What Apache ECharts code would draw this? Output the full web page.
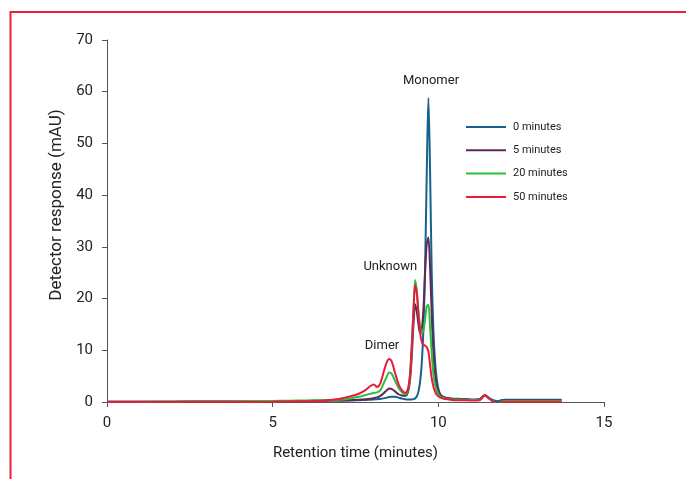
<!DOCTYPE html>
<html>
<head>
<meta charset="utf-8">
<script src="https://cdn.jsdelivr.net/npm/echarts@6/dist/echarts.min.js"></script>
<style>
html,body{margin:0;padding:0;background:#fff;}
#chart{width:686px;height:479px;}
</style>
</head>
<body>
<div id="chart"></div>
<script>
var times = [0, 1, 2, 3, 4, 5, 5.5, 6, 6.5, 7, 7.3, 7.6, 7.8, 7.95, 8.05, 8.15, 8.25, 8.35, 8.45, 8.52, 8.6, 8.7, 8.8, 8.9, 9.0, 9.05, 9.1, 9.15, 9.2, 9.25, 9.3, 9.35, 9.4, 9.45, 9.5, 9.55, 9.6, 9.65, 9.7, 9.75, 9.8, 9.85, 9.9, 9.95, 10.0, 10.05, 10.1, 10.2, 10.4, 10.7, 11.0, 11.25, 11.4, 11.55, 11.68, 11.8, 11.92, 12.05, 12.5, 13.0, 13.72];

var min0 = [0.05, 0.05, 0.05, 0.1, 0.1, 0.15, 0.2, 0.2, 0.25, 0.3, 0.3, 0.35, 0.4, 0.45, 0.5, 0.55, 0.6, 0.7, 0.85, 0.95, 1.0, 1.0, 0.85, 0.65, 0.55, 0.5, 0.5, 0.5, 0.5, 0.55, 0.7, 1.1, 2.0, 4.0, 7.5, 14, 26, 44, 58.8, 45, 25, 14, 8, 4.5, 2.6, 1.6, 1.2, 0.9, 0.7, 0.6, 0.5, 0.6, 1.3, 0.7, 0.3, 0.15, 0.4, 0.45, 0.45, 0.45, 0.45];

var min5 = [0.05, 0.05, 0.05, 0.1, 0.1, 0.15, 0.2, 0.2, 0.25, 0.3, 0.35, 0.45, 0.55, 0.65, 0.75, 0.9, 1.2, 1.7, 2.3, 2.6, 2.5, 2.0, 1.5, 1.25, 1.2, 1.4, 2.3, 4.5, 9, 15, 18.9, 17.5, 15, 13.3, 14, 18, 25, 30.5, 31.8, 26, 17, 9.5, 5.5, 3.2, 2.1, 1.5, 1.1, 0.8, 0.6, 0.5, 0.4, 0.5, 1.3, 0.6, 0.1, -0.2, 0.2, 0.3, 0.3, 0.3, 0.3];

var min20 = [0.05, 0.05, 0.1, 0.1, 0.15, 0.2, 0.25, 0.3, 0.35, 0.45, 0.65, 1.0, 1.35, 1.6, 1.75, 1.85, 2.3, 3.6, 5.0, 5.7, 5.4, 4.0, 2.7, 1.9, 1.5, 1.7, 2.8, 5.5, 11, 18, 23.6, 21.5, 17.5, 14.5, 13.3, 13.8, 16, 18.5, 18.8, 14.5, 9.5, 5.5, 3.4, 2.2, 1.5, 1.1, 0.9, 0.7, 0.5, 0.45, 0.4, 0.45, 1.3, 0.6, 0.0, -0.4, 0.1, 0.2, 0.2, 0.2, 0.2];

var min50 = [0, 0, 0, 0, 0, 0.05, 0.1, 0.15, 0.25, 0.6, 1.0, 1.6, 2.3, 3.1, 3.4, 2.9, 3.6, 5.8, 7.8, 8.3, 7.7, 5.5, 3.4, 2.3, 1.8, 2.0, 3.0, 5.7, 11, 17.5, 22.6, 21, 17, 13.5, 11.6, 11.1, 10.9, 10.6, 9.8, 7.2, 4.6, 3.0, 2.0, 1.4, 1.1, 0.9, 0.75, 0.6, 0.4, 0.35, 0.3, 0.35, 1.3, 0.6, -0.1, -0.55, -0.05, 0.05, 0.05, 0.05, 0.05];

var seriesNames = ['0 minutes', '5 minutes', '20 minutes', '50 minutes'];
var seriesColors = ['#17618e', '#5e2a58', '#2cbf3c', '#ea1a3d'];
var seriesValues = [min0, min5, min20, min50];

var xTicks = [0, 5, 10, 15];
var yTicks = [0, 10, 20, 30, 40, 50, 60, 70];

var annotations = [
  {name: 'Monomer', coord: [9.78, 62.2]},
  {name: 'Unknown', coord: [8.55, 26.2]},
  {name: 'Dimer', coord: [8.3, 10.8]}
];

var FONT = '"Roboto", sans-serif';

function pairs(vals) {
  return times.map(function (t, i) { return [t, vals[i]]; });
}

var series = seriesNames.map(function (n, i) {
  return {
    name: n,
    type: 'line',
    data: pairs(seriesValues[i]),
    symbol: 'none',
    smooth: 0.3,
    lineStyle: {width: 2, color: seriesColors[i]},
    itemStyle: {color: seriesColors[i]},
    z: 2 + i
  };
});

series[0].markPoint = {
  symbol: 'circle',
  symbolSize: 0,
  silent: true,
  label: {show: true, position: 'inside', formatter: '{b}', color: '#222', fontFamily: FONT, fontSize: 13},
  data: annotations.map(function (a) { return {name: a.name, coord: a.coord}; })
};

var chart = echarts.init(document.getElementById('chart'), null, {renderer: 'canvas'});
chart.setOption({
  animation: false,
  backgroundColor: '#fff',
  graphic: [{
    type: 'rect',
    shape: {x: 10.5, y: 12, width: 700, height: 520},
    style: {fill: 'none', stroke: '#e8203f', lineWidth: 2},
    silent: true,
    z: 0
  }],
  grid: {left: 107, right: 82, top: 40, bottom: 77, containLabel: false},
  legend: {
    orient: 'vertical',
    left: 466,
    top: 120,
    padding: 0,
    icon: 'rect',
    itemWidth: 40,
    itemGap: 9.3,
    itemHeight: 2,
    data: seriesNames,
    textStyle: {fontFamily: FONT, fontSize: 11, color: '#222', lineHeight: 14, padding: [0, 0, 0, 2]}
  },
  xAxis: {
    type: 'value',
    min: 0, max: 15, interval: 5,
    name: 'Retention time (minutes)',
    nameLocation: 'middle',
    nameGap: 44,
    nameTextStyle: {fontFamily: FONT, fontSize: 15, color: '#222'},
    axisLine: {show: true, lineStyle: {color: '#555', width: 1}},
    axisTick: {show: true, length: 5, lineStyle: {color: '#555'}},
    axisLabel: {fontFamily: FONT, fontSize: 15, color: '#222', margin: 14,
      formatter: function (v) { return xTicks.indexOf(v) >= 0 ? String(v) : ''; }},
    splitLine: {show: false}
  },
  yAxis: {
    type: 'value',
    min: 0, max: 70, interval: 10,
    name: 'Detector response (mAU)',
    nameLocation: 'middle',
    nameGap: 32,
    nameTextStyle: {fontFamily: FONT, fontSize: 17, color: '#222', padding: [0, 0, 0, 32]},
    axisLine: {show: true, lineStyle: {color: '#555', width: 1}},
    axisTick: {show: true, length: 5, lineStyle: {color: '#555'}},
    axisLabel: {fontFamily: FONT, fontSize: 15, color: '#222', margin: 14,
      formatter: function (v) { return yTicks.indexOf(v) >= 0 ? String(v) : ''; }},
    splitLine: {show: false}
  },
  series: series
});
</script>
</body>
</html>
